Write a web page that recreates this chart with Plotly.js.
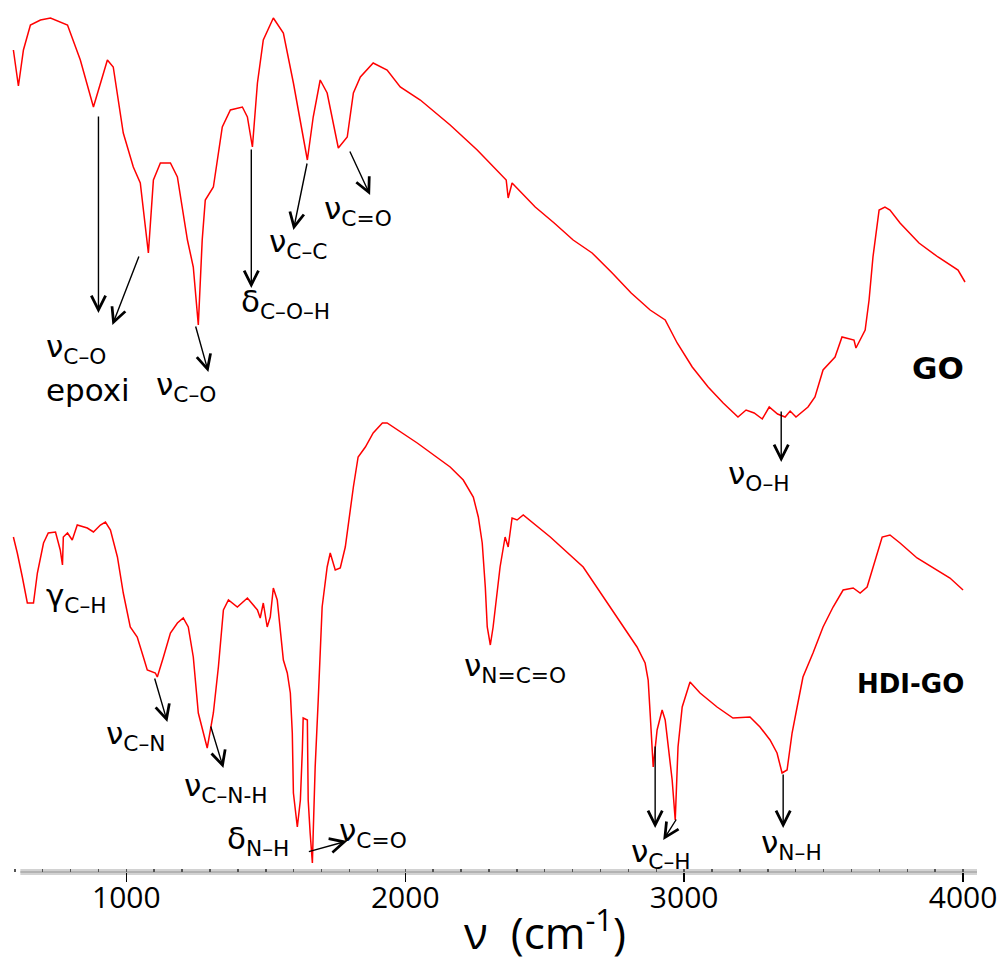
<!DOCTYPE html>
<html>
<head>
<meta charset="utf-8">
<script src="https://cdn.plot.ly/plotly-3.0.1.min.js"></script>
<style>html,body{margin:0;padding:0;background:#fff;}#chart{width:1001px;height:961px;}</style>
</head>
<body>
<div id="chart"></div>
<script>
// GO spectrum (wavenumber, cm-1) and relative transmittance (arbitrary units)
const goWn = [595,613,631,656,692,728,789,835,882,932,953,989,1025,1050,1079,1097,1122,1158,1183,1219,1240,1258,1272,1283,1312,1344,1373,1416,1434,1452,1470,1491,1527,1563,1599,1649,1670,1695,1720,1760,1792,1814,1839,1885,1935,1982,2054,2161,2258,2340,2362,2369,2383,2466,2534,2602,2670,2742,2810,2878,2932,2975,3029,3086,3140,3193,3222,3251,3280,3305,3335,3362,3380,3401,3444,3469,3498,3541,3566,3609,3616,3649,3663,3677,3699,3720,3738,3774,3842,3910,3982,4007];
const goT  = [822,786,822,847,852,854,847,812,765,812,805,739,705,689,619,692,709,709,695,632,605,547,632,672,685,745,762,765,755,725,789,832,854,839,789,712,755,792,779,724,735,779,795,809,802,785,772,747,722,699,692,674,689,665,649,632,619,599,579,562,552,529,505,485,469,455,462,459,453,465,458,455,461,455,465,475,502,515,535,532,524,542,572,615,662,665,662,649,629,615,602,590];

// HDI-GO spectrum
const hdiWn = [595,609,627,645,667,681,703,720,746,763,771,774,789,806,824,860,882,907,925,943,968,989,1014,1039,1061,1075,1104,1111,1133,1158,1183,1204,1222,1240,1258,1276,1290,1312,1330,1348,1366,1398,1434,1470,1480,1491,1505,1516,1527,1541,1552,1563,1577,1588,1595,1599,1613,1624,1631,1634,1649,1652,1659,1667,1670,1677,1688,1702,1720,1731,1749,1767,1785,1796,1814,1831,1857,1885,1918,1935,2043,2161,2208,2244,2262,2276,2287,2294,2305,2315,2330,2340,2358,2369,2383,2401,2423,2520,2638,2760,2831,2860,2871,2878,2889,2903,2921,2932,2943,2957,2968,2978,2993,3021,3057,3118,3175,3236,3272,3308,3333,3351,3369,3387,3405,3426,3462,3498,3534,3570,3606,3631,3656,3674,3692,3710,3738,3774,3835,3892,3953,4000];
const hdiT  = [335,319,295,269,269,299,329,339,340,322,307,335,339,332,347,344,340,347,350,342,315,279,245,235,215,202,199,195,215,239,249,254,245,215,159,139,124,159,205,262,272,265,274,262,254,269,245,255,284,272,239,212,199,179,139,79,45,72,122,154,152,72,39,9,39,105,172,265,305,319,302,304,325,349,385,415,425,439,449,449,429,405,392,375,355,329,285,245,227,245,279,305,335,325,354,352,357,335,305,255,225,209,192,159,105,142,162,152,125,92,52,125,165,190,179,165,154,155,145,132,119,99,102,139,165,195,219,245,265,282,284,279,285,302,319,335,337,329,314,304,294,282];

const tickVals = [1000, 2000, 3000, 4000];
const tickText = ['1000', '2000', '3000', '4000'];

// band labels
const labelTexts = ['ν<sub>C–O</sub>','epoxi','ν<sub>C–O</sub>','δ<sub>C–O–H</sub>','ν<sub>C–C</sub>','ν<sub>C=O</sub>','ν<sub>O–H</sub>',
  'γ<sub>C–H</sub>','ν<sub>C–N</sub>','ν<sub>C–N-H</sub>','δ<sub>N–H</sub>','ν<sub>C=O</sub>','ν<sub>N=C=O</sub>','ν<sub>C–H</sub>','ν<sub>N–H</sub>'];
const labelX = [706,706,1100,1405,1505,1702,3150, 706,921,1200,1354,1756,2204,2802,3268];
const labelY = [524,482,486,569,629,662,397, 275,137,85,32,40,205,19,28];

// arrows: head (x,y) and tail (ax,ay)
const arrHeadX = [900,950,1294,1448,1599,1874,3348, 1147,1348,1792,2896,2925,3355];
const arrHeadY = [559,547,500,584,642,677,410, 150,104,31,44,32,44];
const arrTailX = [900,1047,1247,1448,1649,1799,3348, 1100,1301,1649,2896,2975,3355];
const arrTailY = [757,617,547,724,710,722,462, 195,147,20,127,54,99];

const lineStyle = {color: 'rgb(255,0,0)', width: 1.5};
const traces = [
  {x: goWn, y: goT, type: 'scatter', mode: 'lines', line: lineStyle, name: 'GO', hoverinfo: 'skip'},
  {x: hdiWn, y: hdiT, type: 'scatter', mode: 'lines', line: lineStyle, name: 'HDI-GO', hoverinfo: 'skip'}
];

const annotations = [];
labelTexts.forEach((t, i) => {
  annotations.push({x: labelX[i], y: labelY[i], xref: 'x', yref: 'y', text: t, showarrow: false,
    xanchor: 'left', yanchor: 'middle', font: {family: 'DejaVu Sans', size: 31, color: '#000'}});
});
arrHeadX.forEach((hx, i) => {
  annotations.push({x: hx, y: arrHeadY[i], xref: 'x', yref: 'y', ax: arrTailX[i], ay: arrTailY[i],
    axref: 'x', ayref: 'y', text: '', showarrow: true, arrowhead: 5, arrowsize: 2, arrowwidth: 1.4,
    arrowcolor: '#000', standoff: 0, startstandoff: 0});
});
annotations.push({x: 3810, y: 504, xref: 'x', yref: 'y', text: '<b>GO</b>', showarrow: false,
  xanchor: 'left', yanchor: 'middle', font: {family: 'DejaVu Sans', size: 31, color: '#000'}});
annotations.push({x: 3614, y: 188, xref: 'x', yref: 'y', text: '<b>HDI-GO</b>', showarrow: false,
  xanchor: 'left', yanchor: 'middle', font: {family: 'DejaVu Sans', size: 26, color: '#000'}});
annotations.push({x: 2502, y: -0.067, xref: 'x', yref: 'paper', text: 'ν  (cm<sup>-1</sup>)', showarrow: false,
  xanchor: 'center', yanchor: 'middle', font: {family: 'Open Sans', size: 44, color: '#000'}});

const layout = {
  width: 1001, height: 961,
  margin: {l: 12, r: 24, t: 0, b: 89},
  paper_bgcolor: '#fff', plot_bgcolor: '#fff',
  showlegend: false,
  xaxis: {
    range: [590, 4050], showgrid: false, zeroline: false, showline: false,
    tickvals: tickVals, ticktext: tickText, ticks: 'outside', ticklen: 9, tickwidth: 1.5, tickcolor: '#000',
    ticklabelstandoff: -10,
    tickfont: {family: 'Open Sans', size: 30, color: '#000'},
    minor: {dtick: 100, tick0: 0, ticks: 'inside', ticklen: 3, tickwidth: 1.5, tickcolor: '#555', showgrid: false}
  },
  yaxis: {range: [0, 872], visible: false, showgrid: false, zeroline: false},
  shapes: [
    {type: 'line', xref: 'x', yref: 'paper', x0: 620, x1: 4050, y0: 0, y1: 0, line: {color: '#d2d2d2', width: 6}, layer: 'below'},
    {type: 'line', xref: 'x', yref: 'paper', x0: 620, x1: 4050, y0: 0, y1: 0, line: {color: '#a8a8a8', width: 1.5}, layer: 'below'}
  ],
  annotations: annotations
};

Plotly.newPlot('chart', traces, layout, {displayModeBar: false, staticPlot: true});
</script>
</body>
</html>
